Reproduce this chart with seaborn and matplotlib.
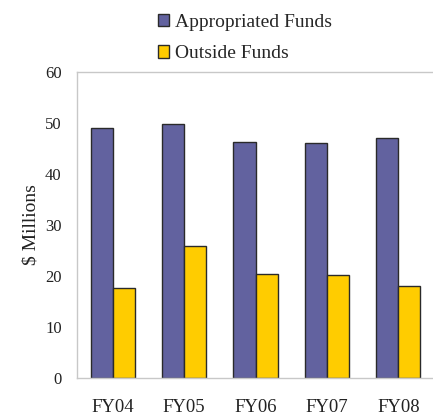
import matplotlib
matplotlib.use("Agg")
import matplotlib.pyplot as plt
import seaborn as sns
import pandas as pd
from matplotlib.patches import Patch

years = ["FY04", "FY05", "FY06", "FY07", "FY08"]
appropriated = [49.0, 49.8, 46.2, 46.1, 47.1]
outside = [17.6, 25.9, 20.4, 20.2, 18.0]
series_names = ["Appropriated Funds", "Outside Funds"]
colors = ["#62629f", "#ffcc00"]

df = pd.DataFrame({
    "Year": years * 2,
    "Value": appropriated + outside,
    "Series": [series_names[0]] * len(years) + [series_names[1]] * len(years),
})

sns.set_theme(style="white")
plt.rcParams["font.family"] = ["Liberation Serif", "DejaVu Serif"]

fig = plt.figure(figsize=(4.33, 4.16), dpi=100)
ax = fig.add_axes([77 / 433, 1 - 378 / 416, 357 / 433, 306 / 416])

sns.barplot(data=df, x="Year", y="Value", hue="Series", palette=colors,
            width=0.62, gap=0, edgecolor="#2a2a2a", linewidth=1.0,
            saturation=1, ax=ax, legend=False)

ax.set_xlim(-0.5, 4.5)
ax.set_ylim(0, 60)
ax.set_yticks([0, 10, 20, 30, 40, 50, 60])
ax.set_xlabel("")
ax.set_ylabel("$ Millions", fontsize=14, color="#222222", labelpad=4)
ax.tick_params(axis="y", length=0, labelsize=12, labelcolor="#222222", pad=11)
ax.tick_params(axis="x", which="major", length=0, labelsize=13.5, labelcolor="#222222", pad=15)
ax.set_xticks([0.5, 1.5, 2.5, 3.5], minor=True)
ax.tick_params(axis="x", which="minor", length=4, color="#bbbbbb", width=0.8)

for side in ["left", "top", "bottom"]:
    ax.spines[side].set_visible(True)
    ax.spines[side].set_color("#c8c8c8")
    ax.spines[side].set_linewidth(1.0)
ax.spines["right"].set_visible(False)

handles = [Patch(facecolor=c, edgecolor="#2a2a2a", linewidth=1.0) for c in colors]
fig.legend(handles, series_names, loc="upper left", bbox_to_anchor=(146 / 433, 0.995),
           frameon=False, fontsize=14, handlelength=0.6, handleheight=0.6,
           handletextpad=0.3, labelspacing=0.75, borderaxespad=0.2)

fig.savefig("out.png", dpi=100)
